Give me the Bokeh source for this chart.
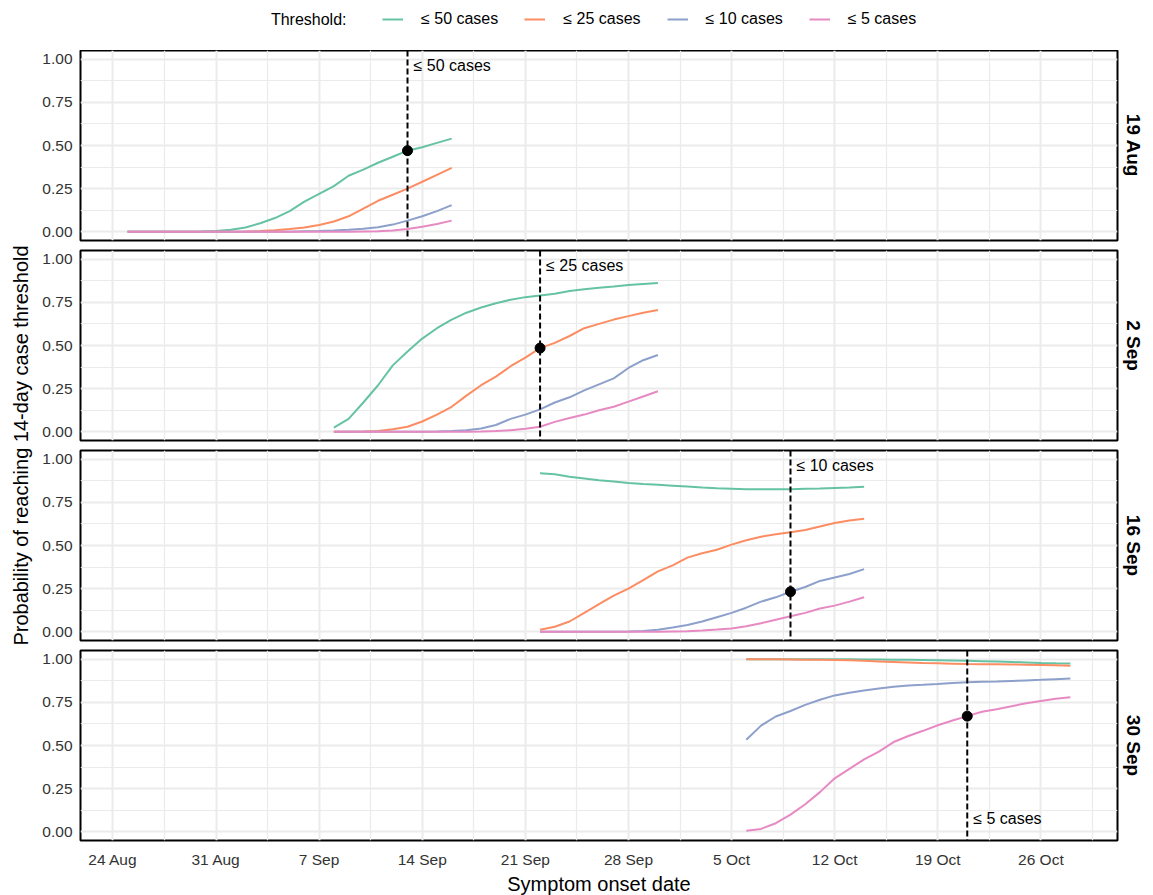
import numpy as np
import pandas as pd
from bokeh.plotting import figure
from bokeh.layouts import column, row
from bokeh.models import (Range1d, FixedTicker, Grid, LinearAxis, DatetimeAxis,
                          DatetimeTickFormatter, NumeralTickFormatter, Span, Title,
                          Legend, LegendItem, Spacer)
from bokeh.core.properties import value
from bokeh.embed import file_html
from bokeh.resources import INLINE

FONT = "Liberation Sans"

# ---------------- data ----------------
panel_names = ["19 Aug", "2 Sep", "16 Sep", "30 Sep"]
panel_start = ["2020-08-25", "2020-09-08", "2020-09-22", "2020-10-06"]
threshold_names = ["≤ 50 cases", "≤ 25 cases", "≤ 10 cases", "≤ 5 cases"]
threshold_colors = ["#66c2a5", "#fc8d62", "#8da0cb", "#e78ac3"]
threshold_dates = ["2020-09-13", "2020-09-22", "2020-10-09", "2020-10-21"]
label_side = ["top", "top", "top", "bottom"]

x_tick_dates = ["2020-08-24", "2020-08-31", "2020-09-07", "2020-09-14", "2020-09-21",
                "2020-09-28", "2020-10-05", "2020-10-12", "2020-10-19", "2020-10-26"]
y_ticks = [0.0, 0.25, 0.5, 0.75, 1.0]
y_minor_ticks = [0.125, 0.375, 0.625, 0.875]

aug19_le50 = [0, 0, 0, 0, 0, 0.002, 0.005, 0.012, 0.025, 0.05, 0.08, 0.12, 0.175, 0.22,
              0.265, 0.325, 0.36, 0.40, 0.435, 0.47, 0.49, 0.515, 0.54]
aug19_le25 = [0, 0, 0, 0, 0, 0, 0, 0.001, 0.002, 0.005, 0.01, 0.016, 0.025, 0.04, 0.06,
              0.09, 0.135, 0.18, 0.215, 0.25, 0.29, 0.33, 0.37]
aug19_le10 = [0, 0, 0, 0, 0, 0, 0, 0, 0, 0, 0, 0, 0.003, 0.005, 0.008, 0.012, 0.018,
              0.027, 0.042, 0.065, 0.09, 0.12, 0.155]
aug19_le5 = [0, 0, 0, 0, 0, 0, 0, 0, 0, 0, 0, 0, 0, 0, 0, 0, 0.002, 0.004, 0.008, 0.017,
             0.03, 0.045, 0.065]

sep2_le50 = [0.025, 0.075, 0.17, 0.27, 0.385, 0.465, 0.54, 0.60, 0.65, 0.69, 0.72, 0.745,
             0.765, 0.78, 0.79, 0.80, 0.815, 0.825, 0.835, 0.842, 0.85, 0.856, 0.862]
sep2_le25 = [0, 0, 0.002, 0.005, 0.015, 0.03, 0.06, 0.10, 0.145, 0.21, 0.27, 0.32, 0.38,
             0.43, 0.485, 0.515, 0.555, 0.60, 0.625, 0.65, 0.67, 0.69, 0.705]
sep2_le10 = [0, 0, 0, 0, 0, 0, 0, 0.002, 0.005, 0.01, 0.02, 0.04, 0.075, 0.10, 0.13, 0.17,
             0.2, 0.24, 0.275, 0.31, 0.37, 0.415, 0.445]
sep2_le5 = [0, 0, 0, 0, 0, 0, 0, 0, 0, 0, 0.002, 0.005, 0.01, 0.018, 0.03, 0.058, 0.08,
            0.10, 0.125, 0.145, 0.175, 0.205, 0.235]

sep16_le50 = [0.918, 0.912, 0.898, 0.888, 0.878, 0.87, 0.862, 0.856, 0.851, 0.846, 0.841,
              0.836, 0.832, 0.829, 0.826, 0.825, 0.825, 0.826, 0.828, 0.83, 0.833, 0.836, 0.84]
sep16_le25 = [0.012, 0.03, 0.06, 0.11, 0.16, 0.21, 0.25, 0.30, 0.35, 0.385, 0.43, 0.455,
              0.475, 0.505, 0.53, 0.551, 0.565, 0.577, 0.59, 0.61, 0.63, 0.645, 0.655]
sep16_le10 = [0, 0, 0, 0, 0, 0, 0.002, 0.005, 0.012, 0.025, 0.04, 0.06, 0.085, 0.11, 0.14,
              0.175, 0.2, 0.232, 0.26, 0.295, 0.315, 0.335, 0.363]
sep16_le5 = [0, 0, 0, 0, 0, 0, 0, 0, 0, 0.002, 0.004, 0.008, 0.013, 0.02, 0.032, 0.05,
             0.07, 0.09, 0.11, 0.135, 0.152, 0.175, 0.20]

sep30_le50 = [1.0, 1.0, 1.0, 1.0, 1.0, 1.0, 0.999, 0.999, 0.998, 0.998, 0.997, 0.996,
              0.995, 0.994, 0.992, 0.99, 0.988, 0.986, 0.984, 0.981, 0.978, 0.976, 0.975]
sep30_le25 = [1.0, 1.0, 0.999, 0.998, 0.997, 0.996, 0.995, 0.993, 0.99, 0.987, 0.984, 0.981,
              0.978, 0.976, 0.974, 0.972, 0.971, 0.97, 0.969, 0.968, 0.966, 0.964, 0.962]
sep30_le10 = [0.533, 0.615, 0.668, 0.70, 0.735, 0.765, 0.79, 0.805, 0.818, 0.83, 0.84, 0.847,
              0.851, 0.856, 0.862, 0.866, 0.869, 0.871, 0.874, 0.877, 0.88, 0.884, 0.888]
sep30_le5 = [0.006, 0.017, 0.05, 0.10, 0.16, 0.23, 0.31, 0.365, 0.42, 0.465, 0.52, 0.555,
             0.585, 0.617, 0.645, 0.67, 0.695, 0.71, 0.727, 0.745, 0.758, 0.77, 0.78]

panel_series = [
    [aug19_le50, aug19_le25, aug19_le10, aug19_le5],
    [sep2_le50, sep2_le25, sep2_le10, sep2_le5],
    [sep16_le50, sep16_le25, sep16_le10, sep16_le5],
    [sep30_le50, sep30_le25, sep30_le10, sep30_le5],
]

# ---------------- helpers ----------------
def ms(d):
    return int(pd.Timestamp(d).value // 10**6)

def hide_default_grids(fig):
    for g in list(fig.center):
        if isinstance(g, Grid):
            g.visible = False

panel_dates = [pd.date_range(s, periods=len(panel_series[i][0]), freq="D")
               for i, s in enumerate(panel_start)]
all_dates = pd.DatetimeIndex(np.concatenate([d.values for d in panel_dates]))
d_lo, d_hi = all_dates.min(), all_dates.max()
pad = (d_hi - d_lo) * 0.05
x_range = Range1d(start=d_lo - pad, end=d_hi + pad)

major_x = [ms(d) for d in x_tick_dates]
half_week = 3.5 * 86400000
minor_x = [m - half_week for m in major_x] + [major_x[-1] + half_week]
x_ticker = FixedTicker(ticks=major_x, minor_ticks=minor_x)
y_ticker = FixedTicker(ticks=y_ticks, minor_ticks=y_minor_ticks)

FRAME_W = 1037
FRAME_H = 190
LEFT_B = 44
RIGHT_B = 34
YLAB_W = 36
TOP_H = 50
GRID_COL = "#ebebeb"

panels = []
for i, name in enumerate(panel_names):
    top_b = 0 if i == 0 else 5
    bot_b = 53 if i == 3 else 5
    p = figure(frame_width=FRAME_W, frame_height=FRAME_H, x_range=x_range,
               y_range=Range1d(-0.05, 1.05), x_axis_type="datetime",
               x_axis_location=None, y_axis_location=None, toolbar_location=None,
               output_backend="svg", title=None,
               min_border_left=LEFT_B, min_border_right=RIGHT_B,
               min_border_top=top_b, min_border_bottom=bot_b)
    hide_default_grids(p)
    p.outline_line_color = "black"
    p.outline_line_width = 2
    p.outline_line_alpha = 1.0

    p.add_layout(Grid(dimension=0, ticker=x_ticker, grid_line_color=GRID_COL,
                      grid_line_width=2, minor_grid_line_color=GRID_COL,
                      minor_grid_line_width=1.2))
    p.add_layout(Grid(dimension=1, ticker=y_ticker, grid_line_color=GRID_COL,
                      grid_line_width=2, minor_grid_line_color=GRID_COL,
                      minor_grid_line_width=1.2))

    yax = LinearAxis(ticker=y_ticker, formatter=NumeralTickFormatter(format="0.00"),
                     axis_line_color=None, major_tick_line_color=None,
                     minor_tick_line_color=None, major_label_text_font=FONT,
                     major_label_text_font_size="15.5px",
                     major_label_text_color="#333333", major_label_standoff=2)
    p.add_layout(yax, "left")

    if i == 3:
        fmt = DatetimeTickFormatter(days="%-d %b", months="%-d %b", years="%-d %b",
                                    hours="%-d %b", hourmin="%-d %b")
        xax = DatetimeAxis(ticker=x_ticker, formatter=fmt,
                           axis_label="Symptom onset date",
                           axis_label_text_font=FONT, axis_label_text_font_size="20px",
                           axis_label_text_font_style="normal",
                           axis_label_text_color="black",
                           axis_line_color=None, major_tick_line_color=None,
                           minor_tick_line_color=None, major_label_text_font=FONT,
                           major_label_text_font_size="15.5px",
                           major_label_text_color="#333333",
                           major_label_standoff=4, axis_label_standoff=2)
        p.add_layout(xax, "below")

    dates = panel_dates[i]
    for series, color in zip(panel_series[i], threshold_colors):
        p.line(x=dates, y=series, line_color=color, line_width=2)

    # threshold marker
    t_date = pd.Timestamp(threshold_dates[i])
    p.add_layout(Span(location=ms(t_date), dimension="height", line_color="black",
                      line_width=2, line_dash="6 3"))
    idx = list(dates).index(t_date)
    p.scatter(x=[t_date], y=[panel_series[i][i][idx]], size=10, color="black")
    ty = 0.965 if label_side[i] == "top" else 0.076
    p.text(x=[t_date], y=[ty], text=[threshold_names[i]], x_offset=6,
           text_baseline="middle", text_align="left", text_font=value(FONT),
           text_font_size="16px", text_color="black")

    p.add_layout(Title(text=name, align="center", text_font=FONT,
                       text_font_size="19px", text_font_style="bold",
                       text_color="black", standoff=10), "right")
    panels.append(p)

# legend strip
pl = figure(frame_width=FRAME_W, frame_height=TOP_H, x_range=Range1d(0, 1),
            y_range=Range1d(0, 1), x_axis_location=None, y_axis_location=None,
            toolbar_location=None, output_backend="svg", title=None,
            min_border_left=LEFT_B, min_border_right=RIGHT_B, min_border_top=0,
            min_border_bottom=0)
hide_default_grids(pl)
pl.outline_line_color = None
items = []
for name, color in zip(threshold_names, threshold_colors):
    r = pl.line(x=[-2, -1], y=[-2, -2], line_color=color, line_width=2)
    items.append(LegendItem(label=name, renderers=[r]))
legend = Legend(items=items, orientation="horizontal", location=(302, 21),
                border_line_color=None, background_fill_alpha=0,
                label_text_font=FONT, label_text_font_size="16px",
                label_text_color="black", glyph_width=21, glyph_height=20,
                label_height=20, label_standoff=18, spacing=26, padding=0, margin=0)
pl.add_layout(legend)
pl.text(x=[(346 - 80) / FRAME_W], y=[0.62], text=["Threshold:"], text_align="right",
        text_baseline="middle", text_font=value(FONT), text_font_size="16px",
        text_color="black")

# y label strip
total_h = 4 * FRAME_H + 3 * 10
pyl = figure(frame_width=YLAB_W, frame_height=total_h, x_range=Range1d(0, 1),
             y_range=Range1d(0, 1), x_axis_location=None, y_axis_location=None,
             toolbar_location=None, output_backend="svg", title=None, min_border=0)
hide_default_grids(pyl)
pyl.outline_line_color = None
pyl.text(x=[0.556], y=[0.5], text=["Probability of reaching 14-day case threshold"],
         angle=np.pi / 2, text_align="center", text_baseline="middle",
         text_font=value(FONT), text_font_size="20px", text_color="black")

layout = row(column(Spacer(width=YLAB_W, height=TOP_H), pyl), column(pl, *panels))

open("out.html", "w").write(file_html(layout, INLINE))
